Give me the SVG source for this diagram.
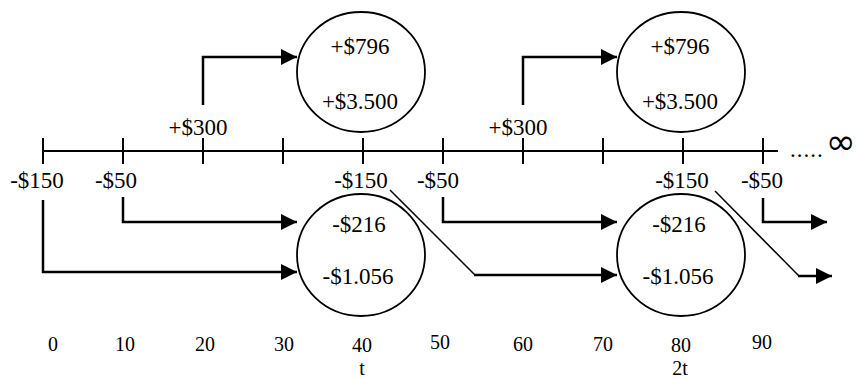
<svg xmlns="http://www.w3.org/2000/svg" width="859" height="379" viewBox="0 0 859 379">
  <style>
    .lbl, .tick, .more { font-family: "Times New Roman", "Liberation Serif", Times, "Noto Serif", "DejaVu Serif", serif; fill: #000; }
    .lbl { font-size: 23px; text-anchor: middle; }
    .tick { font-size: 20px; text-anchor: middle; }
    .more { font-size: 23px; letter-spacing: 1px; }
    .inf { font-family: "DejaVu Sans", sans-serif; font-size: 36px; letter-spacing: 0; }
    .axis { stroke: #000; stroke-width: 2; fill: none; }
    .node { fill: #fff; stroke: #000; stroke-width: 1.8; }
    .flow { stroke: #000; stroke-width: 2.5; fill: none; marker-end: url(#head); }
    .slant { stroke: #000; stroke-width: 1.5; fill: none; }
  </style>
  <defs>
    <marker id="head" markerUnits="userSpaceOnUse" markerWidth="16" markerHeight="16" viewBox="0 0 15 15" refX="15" refY="7.5" orient="auto">
      <path d="M0,0 L15,7.5 L0,15 z" fill="#000"/>
    </marker>
  </defs>

  <!-- time axis with ticks every 10 periods -->
  <g id="axis">
    <path class="axis" d="M43,151 H778"/>
    <path class="axis" d="M43,138 V164 M123,138 V164 M203,138 V164 M283,138 V164 M363,138 V164 M443,138 V164 M523,138 V164 M603,138 V164 M683,138 V164 M763,138 V164"/>
    <text class="more" x="790" y="157">.....<tspan class="inf" dx="2" dy="-3">∞</tspan></text>
  </g>

  <!-- cash flow labels on the axis -->
  <g id="cashflows">
    <text class="lbl" x="198" y="135">+$300</text>
    <text class="lbl" x="518" y="135">+$300</text>
    <text class="lbl" x="37" y="188">-$150</text>
    <text class="lbl" x="116" y="188">-$50</text>
    <text class="lbl" x="361" y="188">-$150</text>
    <text class="lbl" x="438" y="188">-$50</text>
    <text class="lbl" x="682" y="188">-$150</text>
    <text class="lbl" x="762" y="188">-$50</text>
  </g>

  <!-- period numbers -->
  <g id="periods">
    <text class="tick" x="53" y="351">0</text>
    <text class="tick" x="125" y="351">10</text>
    <text class="tick" x="205" y="351">20</text>
    <text class="tick" x="284" y="351">30</text>
    <text class="tick" x="362" y="352">40</text>
    <text class="tick" x="440" y="349">50</text>
    <text class="tick" x="523" y="351">60</text>
    <text class="tick" x="603" y="351">70</text>
    <text class="tick" x="681" y="352">80</text>
    <text class="tick" x="762" y="349">90</text>
    <text class="tick" x="362" y="374.5">t</text>
    <text class="tick" x="680" y="374.5">2t</text>
  </g>

  <!-- accumulated values -->
  <g id="gain1">
    <ellipse class="node" cx="361" cy="72" rx="64" ry="60"/>
    <text class="lbl" x="360" y="54">+$796</text>
    <text class="lbl" x="360" y="109">+$3.500</text>
  </g>
  <g id="gain2">
    <ellipse class="node" cx="681" cy="72" rx="64" ry="60"/>
    <text class="lbl" x="680" y="54">+$796</text>
    <text class="lbl" x="680" y="109">+$3.500</text>
  </g>
  <g id="cost1">
    <ellipse class="node" cx="361" cy="255" rx="64" ry="61"/>
    <text class="lbl" x="359" y="232">-$216</text>
    <text class="lbl" x="358" y="284">-$1.056</text>
  </g>
  <g id="cost2">
    <ellipse class="node" cx="681" cy="255" rx="64" ry="61"/>
    <text class="lbl" x="679" y="232">-$216</text>
    <text class="lbl" x="678" y="284">-$1.056</text>
  </g>

  <!-- connectors -->
  <g id="connectors">
    <path class="flow" d="M203,105 V57 H297"/>
    <path class="flow" d="M523,105 V57 H617"/>
    <path class="flow" d="M123,197 V222 H297"/>
    <path class="flow" d="M43,200 V272 H297"/>
    <path class="flow" d="M443,197 V222 H617"/>
    <path class="slant" d="M390,190 L475,275"/>
    <path class="flow" d="M474,275 H617"/>
    <path class="flow" d="M763,198 V222 H827"/>
    <path class="slant" d="M715,191 L799,276"/>
    <path class="flow" d="M798,276 H832"/>
  </g>
</svg>
